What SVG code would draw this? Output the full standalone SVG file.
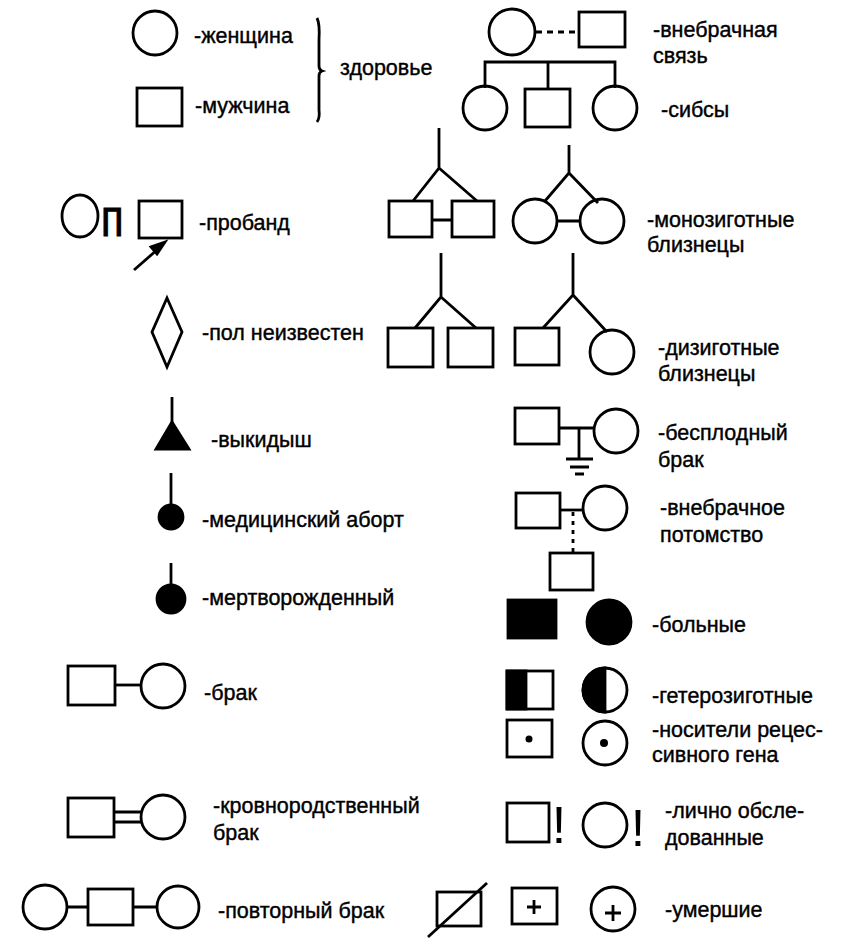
<svg xmlns="http://www.w3.org/2000/svg" width="843" height="939" viewBox="0 0 843 939">
<style>
.s{fill:none;stroke:#000;stroke-width:2.8}
.w{fill:#fff;stroke:#000;stroke-width:2.8}
.f{fill:#000;stroke:#000;stroke-width:2.8}
.c{fill:none;stroke:#000;stroke-width:2.8}
.t{font-family:"Liberation Sans",Arial,sans-serif;font-size:21.5px;fill:#000;stroke:#000;stroke-width:0.4}
</style>
<rect width="843" height="939" fill="#fff"/>
<g id="connectors">
  <line class="c" x1="536" y1="32" x2="579" y2="32" stroke-dasharray="6 5"/>
  <path class="c" d="M485,88 V62 H615 V88 M548,62 V89"/>
  <path class="c" d="M439,128 V168 L413,201 M439,168 L477,201 M432,220 H452"/>
  <path class="c" d="M569,145 V173 L545,201 M569,173 L598,203 M557,221 H580"/>
  <path class="c" d="M441,253 V297 L415,328 M441,297 L476,328"/>
  <path class="c" d="M573,253 V295 L543,328 M573,295 L607,332"/>
  <path class="c" d="M559,428 H594 M579,428 V459 M566,459 H593 M570,467 H589 M575,474 H584"/>
  <path class="c" d="M560,510 H583"/>
  <line class="c" x1="573" y1="512" x2="573" y2="553" stroke-dasharray="4 5"/>
  <path class="c" d="M115,685 H142"/>
  <path class="c" d="M114,812 H142 M114,822 H142"/>
  <path class="c" d="M67,907 H88 M133,907 H157"/>
</g>
<g id="female">
  <circle class="s" cx="155" cy="33" r="22"/>
  <text class="t" x="194" y="43">-женщина</text>
</g>
<g id="male">
  <rect class="s" x="137" y="88" width="45" height="38"/>
  <text class="t" x="195" y="113">-мужчина</text>
</g>
<g id="healthy">
  <path class="s" stroke-width="2" d="M317,18 Q320,24 319,40 L319,66 Q319,70 322,71 Q319,72 319,76 L319,110 Q320,118 317,122"/>
  <text class="t" x="340" y="75">здоровье</text>
</g>
<g id="extramarital">
  <circle class="s" cx="512" cy="32" r="23"/>
  <rect class="s" x="579" y="12" width="46" height="35"/>
  <text class="t" x="653" y="37">-внебрачная</text>
  <text class="t" x="653" y="63">связь</text>
</g>
<g id="sibs">
  <circle class="s" cx="485" cy="108" r="22"/>
  <rect class="s" x="525" y="89" width="45" height="38"/>
  <circle class="s" cx="615" cy="108" r="22"/>
  <text class="t" x="661" y="117">-сибсы</text>
</g>
<g id="proband">
  <ellipse class="s" cx="80" cy="216" rx="18" ry="21"/>
  <text transform="translate(101,236) scale(0.8,1)" style="font-family:'Liberation Sans',Arial,sans-serif;font-size:52px;fill:#000;stroke:#000;stroke-width:1">п</text>
  <rect class="s" x="139" y="201" width="43" height="37"/>
  <line class="s" x1="134" y1="270" x2="158" y2="249"/>
  <polygon class="f" stroke-width="1" points="165,242 151,247 157,254"/>
  <text class="t" x="199" y="230">-пробанд</text>
</g>
<g id="mono-twins">
  <rect class="s" x="389" y="201" width="43" height="36"/>
  <rect class="s" x="452" y="201" width="42" height="36"/>
  <circle class="s" cx="535" cy="221" r="22"/>
  <circle class="s" cx="602" cy="221" r="22"/>
  <text class="t" x="647" y="227">-монозиготные</text>
  <text class="t" x="647" y="252">близнецы</text>
</g>
<g id="unknown-sex">
  <polygon class="s" points="167,298 182,332 167,367 152,332"/>
  <text class="t" x="202" y="340">-пол неизвестен</text>
</g>
<g id="di-twins">
  <rect class="s" x="388" y="328" width="45" height="39"/>
  <rect class="s" x="448" y="328" width="45" height="39"/>
  <rect class="s" x="515" y="328" width="44" height="37"/>
  <circle class="s" cx="612" cy="352" r="22"/>
  <text class="t" x="658" y="355">-дизиготные</text>
  <text class="t" x="658" y="381">близнецы</text>
</g>
<g id="miscarriage">
  <line class="s" x1="172" y1="397" x2="172" y2="425"/>
  <polygon class="f" stroke-width="1" points="172,422 189,449 156,449"/>
  <text class="t" x="211" y="447">-выкидыш</text>
</g>
<g id="infertile">
  <rect class="s" x="515" y="408" width="44" height="36"/>
  <circle class="s" cx="616" cy="431" r="22"/>
  <text class="t" x="658" y="440">-бесплодный</text>
  <text class="t" x="658" y="467">брак</text>
</g>
<g id="extramarital-offspring">
  <rect class="s" x="516" y="493" width="44" height="35"/>
  <circle class="s" cx="605" cy="508" r="22"/>
  <rect class="s" x="550" y="553" width="43" height="37"/>
  <text class="t" x="660" y="515">-внебрачное</text>
  <text class="t" x="660" y="542">потомство</text>
</g>
<g id="abortion">
  <line class="s" x1="171" y1="473" x2="171" y2="507"/>
  <circle class="f" stroke-width="1" cx="171" cy="517" r="12"/>
  <text class="t" x="202" y="527">-медицинский аборт</text>
</g>
<g id="stillborn">
  <line class="s" x1="171" y1="563" x2="171" y2="588"/>
  <circle class="f" stroke-width="1" cx="171" cy="599" r="14"/>
  <text class="t" x="202" y="605">-мертворожденный</text>
</g>
<g id="affected">
  <rect class="f" x="508" y="600" width="48" height="38"/>
  <circle class="f" cx="609" cy="622" r="22"/>
  <text class="t" x="652" y="632">-больные</text>
</g>
<g id="marriage">
  <rect class="s" x="68" y="666" width="47" height="39"/>
  <circle class="s" cx="163" cy="686" r="22"/>
  <text class="t" x="204" y="700">-брак</text>
</g>
<g id="heterozygous">
  <rect class="f" stroke-width="0" x="507" y="671" width="19" height="38"/>
  <rect class="s" x="507" y="671" width="46" height="38"/>
  <path class="f" stroke-width="0" d="M605,668 A22,22 0 0 0 605,712 Z"/>
  <circle class="s" cx="605" cy="690" r="22"/>
  <text class="t" x="652" y="703">-гетерозиготные</text>
</g>
<g id="carriers">
  <rect class="s" x="507" y="720" width="45" height="37"/>
  <circle cx="529" cy="739" r="3.5" fill="#000"/>
  <circle class="s" cx="605" cy="743" r="22"/>
  <circle cx="604" cy="743" r="4" fill="#000"/>
  <text class="t" x="652" y="737">-носители рецес-</text>
  <text class="t" x="652" y="762">сивного гена</text>
</g>
<g id="consanguineous">
  <rect class="s" x="68" y="798" width="46" height="39"/>
  <circle class="s" cx="163" cy="817" r="22"/>
  <text class="t" x="213" y="813">-кровнородственный</text>
  <text class="t" x="213" y="840">брак</text>
</g>
<g id="examined">
  <rect class="s" x="507" y="803" width="42" height="39"/>
  <text x="559" y="843" text-anchor="middle" style="font-family:'Liberation Sans',Arial,sans-serif;font-size:52px;fill:#000">!</text>
  <circle class="s" cx="605" cy="825" r="22"/>
  <text x="638" y="846" text-anchor="middle" style="font-family:'Liberation Sans',Arial,sans-serif;font-size:52px;fill:#000">!</text>
  <text class="t" x="665" y="818">-лично  обсле-</text>
  <text class="t" x="665" y="845">дованные</text>
</g>
<g id="remarriage">
  <circle class="s" cx="45" cy="907" r="22"/>
  <rect class="s" x="88" y="889" width="45" height="36"/>
  <circle class="s" cx="178" cy="907" r="21"/>
  <text class="t" x="218" y="918">-повторный брак</text>
</g>
<g id="deceased">
  <rect class="s" x="437" y="892" width="44" height="34"/>
  <line class="s" x1="428" y1="937" x2="487" y2="883"/>
  <rect class="s" x="512" y="888" width="45" height="36"/>
  <path class="s" d="M534,900 V914 M527,907 H541"/>
  <circle class="s" cx="613" cy="909" r="22"/>
  <path class="s" d="M613,905 V921 M605,913 H621"/>
  <text class="t" x="665" y="917">-умершие</text>
</g>
</svg>
